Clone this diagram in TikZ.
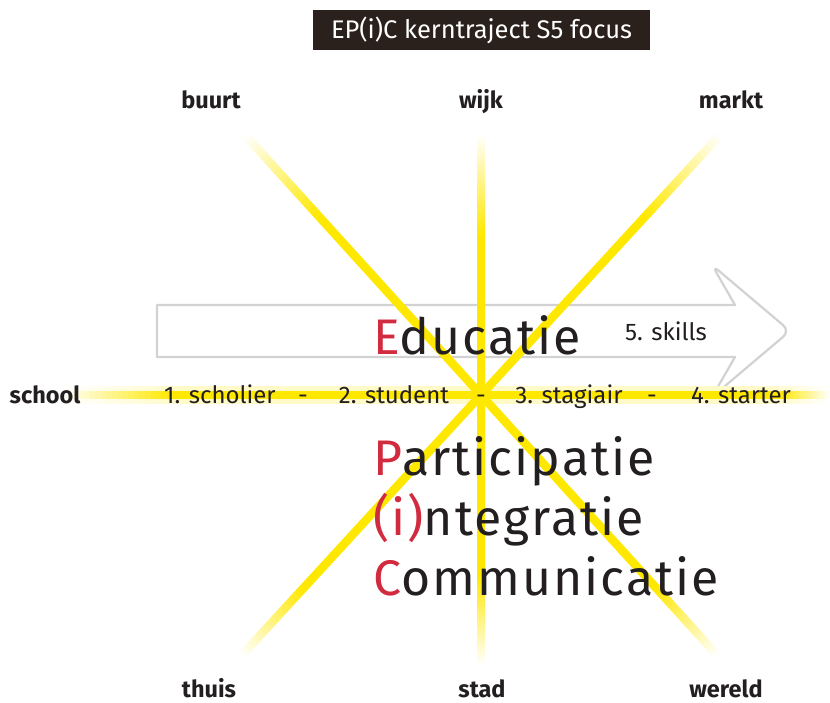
\documentclass[tikz,border=0pt]{standalone}
\usepackage{fontspec}
\setmainfont{Fira Sans}
\newfontfamily\bigfont[LetterSpace=4]{Fira Sans}
\usetikzlibrary{calc}
\definecolor{rayyellow}{HTML}{FFE800}
\colorlet{glowyellow}{rayyellow!22!white}
\definecolor{epred}{HTML}{D22A3F}
\definecolor{inkdark}{HTML}{231F20}
\definecolor{titlebg}{HTML}{2B211C}
\definecolor{arrowgray}{HTML}{D2D2D2}
% ray from #1 to #2, fade length #3 at #1 end, #4 at #2 end, width #5, colour #6
\newcommand{\drawray}[6]{%
  \draw[line width=#5, draw=#6] ($(#1)!#3pt!(#2)$) -- ($(#2)!#4pt!(#1)$);
  \foreach \k in {0,...,19}{%
    \pgfmathsetmacro{\pct}{(\k+0.5)*5}%
    \pgfmathsetmacro{\da}{\k/20*#3}%
    \pgfmathsetmacro{\db}{(\k+1.1)/20*#3}%
    \pgfmathsetmacro{\dc}{\k/20*#4}%
    \pgfmathsetmacro{\dd}{(\k+1.1)/20*#4}%
    \draw[line width=#5, draw=#6!\pct!white] ($(#1)!\da pt!(#2)$) -- ($(#1)!\db pt!(#2)$);
    \draw[line width=#5, draw=#6!\pct!white] ($(#2)!\dc pt!(#1)$) -- ($(#2)!\dd pt!(#1)$);
  }%
}
\begin{document}
\begin{tikzpicture}[x=1pt,y=-1pt,
  arrowline/.style={draw=arrowgray, line width=2.2pt, line join=round},
  titlebox/.style={fill=titlebg, text=white, inner sep=0pt, minimum width=337pt, minimum height=40pt, font=\fontsize{25.5}{28}\selectfont},
  place/.style={text=inkdark, font=\bfseries\fontsize{23.5}{26}\selectfont, inner sep=0pt, anchor=base},
  stage/.style={text=inkdark, font=\fontsize{24}{27}\selectfont, inner sep=0pt, anchor=base},
  bigword/.style={text=inkdark, font=\bigfont\fontsize{50}{56}\selectfont, inner sep=0pt, anchor=base west},
  initial/.style={text=epred}]
\useasboundingbox (0,0) rectangle (830,703);
\fill[white] (0,0) rectangle (830,703);

% hollow arrow
\draw[arrowline] (157,305) -- (735,305) [rounded corners=9pt] -- (712,265) -- (790,331) -- (712,397) [sharp corners] -- (735,357) -- (157,357) -- cycle;

% rays
\coordinate (C) at (481,395);
\coordinate (N) at (481,135);
\coordinate (S) at (481,665);
\coordinate (W) at (62,395);
\coordinate (E) at (830,395);
\coordinate (NW) at (245,135);
\coordinate (SE) at (717,655);
\coordinate (NE) at (720,135);
\coordinate (SW) at (242,655);
\drawray{W}{E}{120}{60}{18pt}{glowyellow}
\drawray{W}{E}{110}{50}{8.5pt}{rayyellow}
\drawray{N}{S}{100}{90}{8.5pt}{rayyellow}
\drawray{NW}{SE}{110}{90}{8.5pt}{rayyellow}
\drawray{NE}{SW}{110}{90}{8.5pt}{rayyellow}

% title
\node[titlebox] (title) at (481.5,30) {EP(i)C kerntraject S5 focus};

% place labels
\node[place] (buurt) at (211,109) {buurt};
\node[place] (wijk) at (481,109) {wijk};
\node[place] (markt) at (731,109) {markt};
\node[place] (school) at (45,403) {school};
\node[place] (thuis) at (209,697) {thuis};
\node[place] (stad) at (482,697) {stad};
\node[place] (wereld) at (726,697) {wereld};

% stages
\node[stage] (s1) at (220,403) {1. scholier};
\node[stage] (d1) at (303,403) {-};
\node[stage] (s2) at (394,403) {2. student};
\node[stage] (d2) at (481,403) {-};
\node[stage] (s3) at (569,403) {3. stagiair};
\node[stage] (d3) at (652,403) {-};
\node[stage] (s4) at (741,403) {4. starter};
\node[stage] (s5) at (666,341) {5. skills};

% EPiC words
\node[bigword] (edu) at (373,355) {\textcolor{epred}{E}ducatie};
\node[bigword] (par) at (373,475) {\textcolor{epred}{P}articipatie};
\node[bigword] (int) at (373,535) {\textcolor{epred}{(i)}ntegratie};
\node[bigword] (com) at (373,595) {\textcolor{epred}{C}ommunicatie};
\end{tikzpicture}
\end{document}
